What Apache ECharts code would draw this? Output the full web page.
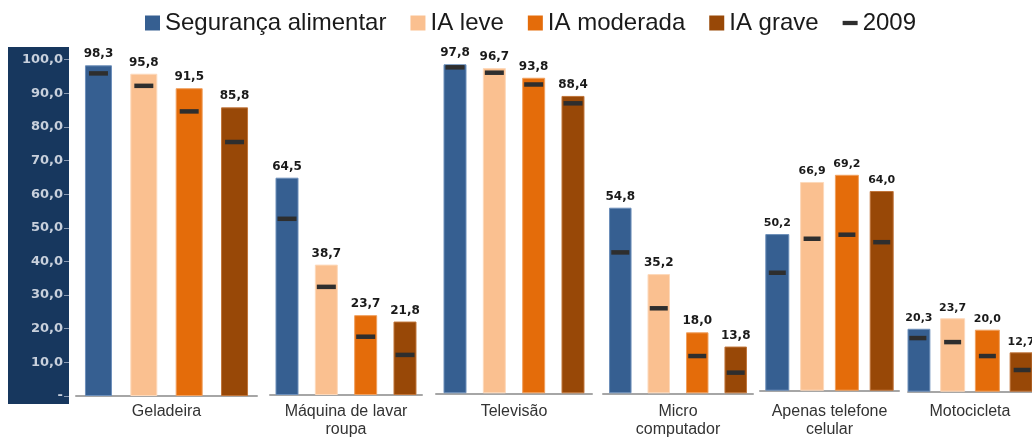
<!DOCTYPE html>
<html>
<head>
<meta charset="utf-8">
<script src="https://cdn.jsdelivr.net/npm/echarts@6/dist/echarts.min.js"></script>
<style>
  html, body { margin: 0; padding: 0; background: #fff; }
  #chart { width: 1032px; height: 439px; }
</style>
</head>
<body>
<div id="chart"></div>
<script>
// categorias e valores (%)
const categorias = ['Geladeira', 'Máquina de lavar\nroupa', 'Televisão', 'Micro\ncomputador', 'Apenas telefone\ncelular', 'Motocicleta']
const seguranca = [98.3, 64.5, 97.8, 54.8, 50.2, 20.3]
const iaLeve = [95.8, 38.7, 96.7, 35.2, 66.9, 23.7]
const iaModerada = [91.5, 23.7, 93.8, 18.0, 69.2, 20.0]
const iaGrave = [85.8, 21.8, 88.4, 13.8, 64.0, 12.7]
// marcas de 2009
const seguranca2009 = [95.9, 52.3, 96.9, 41.6, 37.8, 17.3]
const iaLeve2009 = [92.2, 32.1, 95.3, 25.1, 48.7, 16.0]
const iaModerada2009 = [84.6, 17.3, 91.8, 11.0, 50.0, 11.5]
const iaGrave2009 = [75.5, 11.9, 86.2, 6.1, 47.6, 7.0]
const yTicks = [0, 10, 20, 30, 40, 50, 60, 70, 80, 90, 100]

const nomes = ['Segurança alimentar', 'IA leve', 'IA moderada', 'IA grave']
const cores = ['#365f91', '#fac090', '#e46c0a', '#984807']
const bordas = ['#6d8fba', '#fdd9bb', '#f0a05f', '#c0753a']
const valores = [seguranca, iaLeve, iaModerada, iaGrave]
const valores2009 = [seguranca2009, iaLeve2009, iaModerada2009, iaGrave2009]

// cada categoria é um painel separado, como no original
const paineis = [
  { left: 76, width: 181, top: 59.6, base: 396, barW: 27, gap: 18.3, markW: 19, fs: 12 },
  { left: 270, width: 152, top: 58.1, base: 395, barW: 23, gap: 16.3, markW: 19, fs: 12 },
  { left: 436, width: 156, top: 56.9, base: 393.3, barW: 23, gap: 16.3, markW: 19, fs: 12 },
  { left: 603, width: 150, top: 54.6, base: 393.3, barW: 22.5, gap: 16, markW: 18, fs: 12 },
  { left: 760, width: 139, top: 78.7, base: 390.7, barW: 24, gap: 10.7, markW: 17, fs: 11 },
  { left: 908, width: 141, top: 81.7, base: 391.7, barW: 25, gap: 9.7, markW: 17, fs: 11 }
]
const labelY = 403

const fmt = v => v.toFixed(1).replace('.', ',')

const chart = echarts.init(document.getElementById('chart'))

let grid = []
let xAxis = []
let yAxis = []
let series = []

paineis.forEach((p, i) => {
  grid.push({ left: p.left, width: p.width, top: p.top, bottom: 439 - p.base, containLabel: false })
  xAxis.push({
    type: 'category',
    gridIndex: i,
    data: [categorias[i]],
    axisTick: { show: false },
    axisLine: { lineStyle: { color: '#a6a6a6', width: 2 } },
    axisLabel: {
      margin: labelY - p.base,
      fontFamily: 'Liberation Sans',
      fontSize: 16,
      lineHeight: 18,
      color: '#333'
    }
  })
  yAxis.push({
    type: 'value',
    gridIndex: i,
    min: 0,
    max: 100,
    interval: 10,
    show: i === 0,
    offset: 7,
    splitLine: { show: false },
    axisLine: { show: false },
    axisTick: { show: true, length: 5, lineStyle: { color: '#8a9bb3' } },
    axisLabel: {
      margin: 6,
      color: '#c8d0dc',
      fontFamily: 'DejaVu Sans',
      fontWeight: 'bold',
      fontSize: 13,
      formatter: v => (v === 0 ? '-' : fmt(v))
    }
  })
  const gapPct = Math.round(p.gap / p.barW * 100) + '%'
  nomes.forEach((nome, k) => {
    series.push({
      name: nome,
      type: 'bar',
      xAxisIndex: i,
      yAxisIndex: i,
      barWidth: p.barW,
      barGap: gapPct,
      data: [valores[k][i]],
      itemStyle: { color: cores[k], borderColor: bordas[k], borderWidth: 1 },
      label: {
        show: true,
        position: 'top',
        distance: 5,
        fontFamily: 'DejaVu Sans',
        fontWeight: 'bold',
        fontSize: p.fs,
        color: '#1a1a1a',
        formatter: d => fmt(d.value)
      }
    })
  })
  nomes.forEach((nome, k) => {
    series.push({
      name: '2009',
      type: 'pictorialBar',
      xAxisIndex: i,
      yAxisIndex: i,
      barWidth: p.barW,
      barGap: gapPct,
      z: 5,
      symbol: 'rect',
      symbolSize: [p.markW, 4.5],
      symbolPosition: 'end',
      symbolOffset: [0, '-50%'],
      itemStyle: { color: '#2e2e2e' },
      data: [valores2009[k][i]]
    })
  })
})

let option = {
  animation: false,
  graphic: [
    {
      type: 'rect',
      left: 8,
      top: 47,
      z: -1,
      shape: { width: 61, height: 357 },
      style: { fill: '#17375e' }
    }
  ],
  legend: {
    left: 140,
    top: 6,
    itemWidth: 15,
    itemHeight: 15,
    itemGap: 24,
    itemStyle: { borderWidth: 0 },
    textStyle: { fontFamily: 'Liberation Sans', fontSize: 24, color: '#1a1a1a' },
    data: [
      { name: 'Segurança alimentar', icon: 'rect' },
      { name: 'IA leve', icon: 'rect' },
      { name: 'IA moderada', icon: 'rect' },
      { name: 'IA grave', icon: 'rect' },
      { name: '2009', icon: 'path://M0,0H14V4H0Z' }
    ]
  },
  grid: grid,
  xAxis: xAxis,
  yAxis: yAxis,
  series: series
}
chart.setOption(option)
</script>
</body>
</html>
